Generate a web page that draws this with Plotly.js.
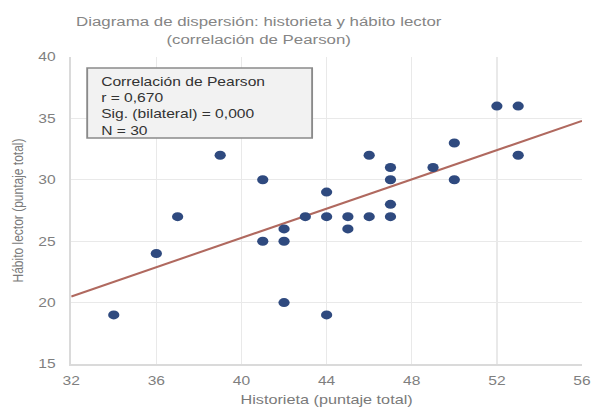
<!DOCTYPE html>
<html><head><meta charset="utf-8">
<script src="https://cdn.plot.ly/plotly-3.0.1.min.js"></script>
<style>
html,body{margin:0;padding:0;background:#fff;overflow:hidden;}
#wrap{width:592px;height:407px;overflow:hidden;position:relative;}
#chart{width:474px;height:407px;transform:scaleX(1.249);transform-origin:0 0;}
</style>
</head><body><div id="wrap"><div id="chart"></div></div>
<script>
const historieta = [34,36,37,39,41,41,42,42,42,43,44,44,44,45,45,46,46,47,47,47,47,49,50,50,52,53,53];
const habito     = [19,24,27,32,30,25,26,25,20,27,29,27,19,27,26,32,27,31,30,28,27,31,33,30,36,36,32];
const fitX = [32,56];
const fitY = [20.5,34.8];
const xTicks = [32,36,40,44,48,52,56];
const yTicks = [15,20,25,30,35,40];
const statsLines = ["Correlación de Pearson","r = 0,670","Sig. (bilateral) = 0,000","N = 30"];

const font = "Liberation Sans, Arial, sans-serif";
const traces = [
  {x: fitX, y: fitY, mode:'lines', line:{color:'#b0695f', width:2}, hoverinfo:'skip', showlegend:false},
  {x: historieta, y: habito, mode:'markers', marker:{color:'#2f4a7f', size:9}, showlegend:false}
];
const layout = {
  width:474, height:407,
  margin:{l:57, r:8, t:57, b:43},
  paper_bgcolor:'#fff', plot_bgcolor:'#fff',
  font:{family:font, color:'#666', size:13},
  title:{text:'Diagrama de dispersión: historieta y hábito lector<br>(correlación de Pearson)',
         font:{family:font, size:13.5, color:'#858585'}, xref:'container', x:0.437, xanchor:'center',
         yref:'container', y:0.935, yanchor:'middle'},
  xaxis:{range:[32,56], tickvals:xTicks, ticktext:xTicks.map(String), showgrid:true, gridcolor:'#e9e9e9',
         zeroline:false, showline:true, linecolor:'#dadada', linewidth:2, ticks:'', ticklabelstandoff:4,
         tickfont:{size:12.5, color:'#7f7f7f'},
         title:{text:'Historieta (puntaje total)', font:{size:13, color:'#7a7a7a'}, standoff:15}},
  yaxis:{range:[15,40], tickvals:yTicks, ticktext:yTicks.map(String), showgrid:true, gridcolor:'#e9e9e9',
         zeroline:false, showline:true, linecolor:'#dadada', linewidth:2, ticks:'', ticklabelstandoff:8,
         tickfont:{size:12.5, color:'#7f7f7f'},
         title:{text:'Hábito lector (puntaje total)', font:{size:12, color:'#7a7a7a'}, standoff:9}},
  shapes:[{type:'rect', xref:'paper', yref:'paper', x0:0.0313, x1:0.4716, y0:0.7362, y1:0.9642,
           fillcolor:'#f2f2f2', line:{color:'#8a8a8a', width:1.5}, layer:'above'}],
  annotations:[{
    xref:'paper', yref:'paper', x:0.053, y:0.839, xanchor:'left', yanchor:'middle',
    text: statsLines.join('<br>'), align:'left', showarrow:false,
    font:{family:font, size:12.5, color:'#333'}
  }]
};
Plotly.newPlot('chart', traces, layout, {displayModeBar:false, staticPlot:true});
</script></body></html>
